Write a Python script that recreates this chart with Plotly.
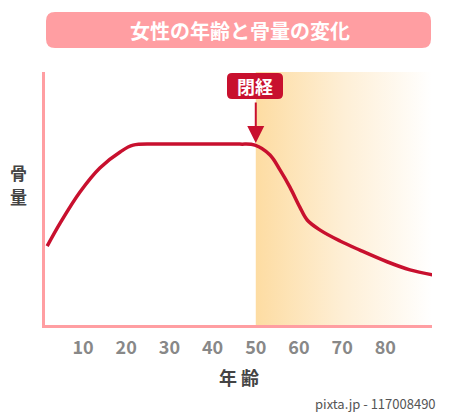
import plotly.graph_objects as go

# ---- data ----
ages = [1.7, 4.7, 9.3, 13.9, 18.6, 21.6, 27.8, 37.1, 46.3, 49.8, 53.3, 55.6, 57.9, 60.2, 61.9, 64.9, 69.5, 74.1, 80.4, 85.7, 91.0]
bone_mass = [31.2, 40.3, 52.6, 62.1, 68.4, 71.1, 71.5, 71.5, 71.5, 71.1, 67.2, 61.3, 54.5, 46.6, 41.5, 37.5, 33.2, 29.6, 25.0, 21.8, 19.8]
tick_ages = [10, 20, 30, 40, 50, 60, 70, 80]
menopause_age = 50
menopause_label = "閉経"
title_text = "女性の年齢と骨量の変化"
x_title = "年 齢"
credit = "pixta.jp - 117008490"

X_RANGE = [1.2, 90.8]
Y_RANGE = [0, 100]

W, H = 450, 413
ML, MR, MT, MB = 45, 18, 72, 88
PW, PH = W - ML - MR, H - MT - MB

RED = "#C8102E"
PINK = "#FF9EA2"
FONT = "Noto Sans CJK JP"


def px2paper(px, py):
    return (px - ML) / PW, (H - MB - py) / PH


def rounded_rect(x0, y0, x1, y1, r):
    def P(x, y):
        a, b = px2paper(x, y)
        return f"{a:.5f},{b:.5f}"
    return (f"M {P(x0 + r, y0)} L {P(x1 - r, y0)} Q {P(x1, y0)} {P(x1, y0 + r)} "
            f"L {P(x1, y1 - r)} Q {P(x1, y1)} {P(x1 - r, y1)} L {P(x0 + r, y1)} "
            f"Q {P(x0, y1)} {P(x0, y1 - r)} L {P(x0, y0 + r)} Q {P(x0, y0)} {P(x0 + r, y0)} Z")


fig = go.Figure()

# shaded post-menopause region (gradient)
fig.add_trace(go.Scatter(
    x=[menopause_age, X_RANGE[1], X_RANGE[1], menopause_age, menopause_age],
    y=[Y_RANGE[0], Y_RANGE[0], Y_RANGE[1], Y_RANGE[1], Y_RANGE[0]],
    fill="toself", mode="none",
    fillgradient=dict(type="horizontal",
                      colorscale=[[0, "#FDDCA2"], [0.5, "#FEEFD6"], [1, "#FFFFFF"]]),
    hoverinfo="skip", showlegend=False,
))

# bone mass curve
fig.add_trace(go.Scatter(
    x=ages, y=bone_mass, mode="lines",
    line=dict(color=RED, width=3.5, shape="spline", smoothing=1.0),
    hoverinfo="skip", showlegend=False,
))

shapes = [
    dict(type="path", xref="paper", yref="paper", path=rounded_rect(46, 12, 431, 48, 9),
         fillcolor=PINK, line=dict(width=0), layer="above"),
    dict(type="path", xref="paper", yref="paper", path=rounded_rect(227, 73, 283, 99, 5),
         fillcolor=RED, line=dict(width=0), layer="above"),
]

plateau = bone_mass[ages.index(49.8)]

annotations = [
    dict(text=title_text, xref="paper", yref="paper", x=px2paper(240, 0)[0], y=px2paper(0, 30)[1],
         showarrow=False, font=dict(family=FONT, size=20, color="white", weight="bold"),
         xanchor="center", yanchor="middle"),
    dict(text=menopause_label, xref="paper", yref="paper", x=px2paper(255, 0)[0], y=px2paper(0, 86)[1],
         showarrow=False, font=dict(family=FONT, size=18, color="white", weight="bold"),
         xanchor="center", yanchor="middle"),
    dict(text="", x=menopause_age, y=plateau, xref="x", yref="y",
         showarrow=True, ax=0, ay=-44, arrowhead=2, arrowsize=1.7, arrowwidth=2,
         arrowcolor=RED, standoff=2),
    dict(text="骨", xref="paper", yref="paper", x=px2paper(18, 0)[0], y=px2paper(0, 172)[1],
         showarrow=False, font=dict(family=FONT, size=17, color="#444444", weight="bold"),
         xanchor="center", yanchor="middle"),
    dict(text="量", xref="paper", yref="paper", x=px2paper(18, 0)[0], y=px2paper(0, 196)[1],
         showarrow=False, font=dict(family=FONT, size=17, color="#444444", weight="bold"),
         xanchor="center", yanchor="middle"),
    dict(text=x_title, xref="paper", yref="paper", x=px2paper(239, 0)[0], y=px2paper(0, 377)[1],
         showarrow=False, font=dict(family=FONT, size=18, color="#444444", weight="bold"),
         xanchor="center", yanchor="middle"),
    dict(text=credit, xref="paper", yref="paper", x=px2paper(438, 0)[0], y=px2paper(0, 403)[1],
         showarrow=False, font=dict(family=FONT, size=13, color="#555555"),
         xanchor="right", yanchor="middle"),
]

fig.update_layout(
    width=W, height=H,
    margin=dict(l=ML, r=MR, t=MT, b=MB),
    paper_bgcolor="white", plot_bgcolor="white",
    shapes=shapes, annotations=annotations,
    xaxis=dict(range=X_RANGE, tickvals=tick_ages, ticktext=[str(t) for t in tick_ages],
               showgrid=False, zeroline=False, showline=True, linecolor=PINK, linewidth=3,
               ticks="", tickfont=dict(family=FONT, size=18, color="#888888", weight="bold"),
               ticklabelstandoff=4, fixedrange=True),
    yaxis=dict(range=Y_RANGE, showticklabels=False, showgrid=False, zeroline=False,
               showline=True, linecolor=PINK, linewidth=3, ticks="", fixedrange=True),
    showlegend=False,
)

fig.write_html("out.html", config={"displayModeBar": False},
               post_script="document.body.style.margin='0';document.body.style.overflow='hidden';")
